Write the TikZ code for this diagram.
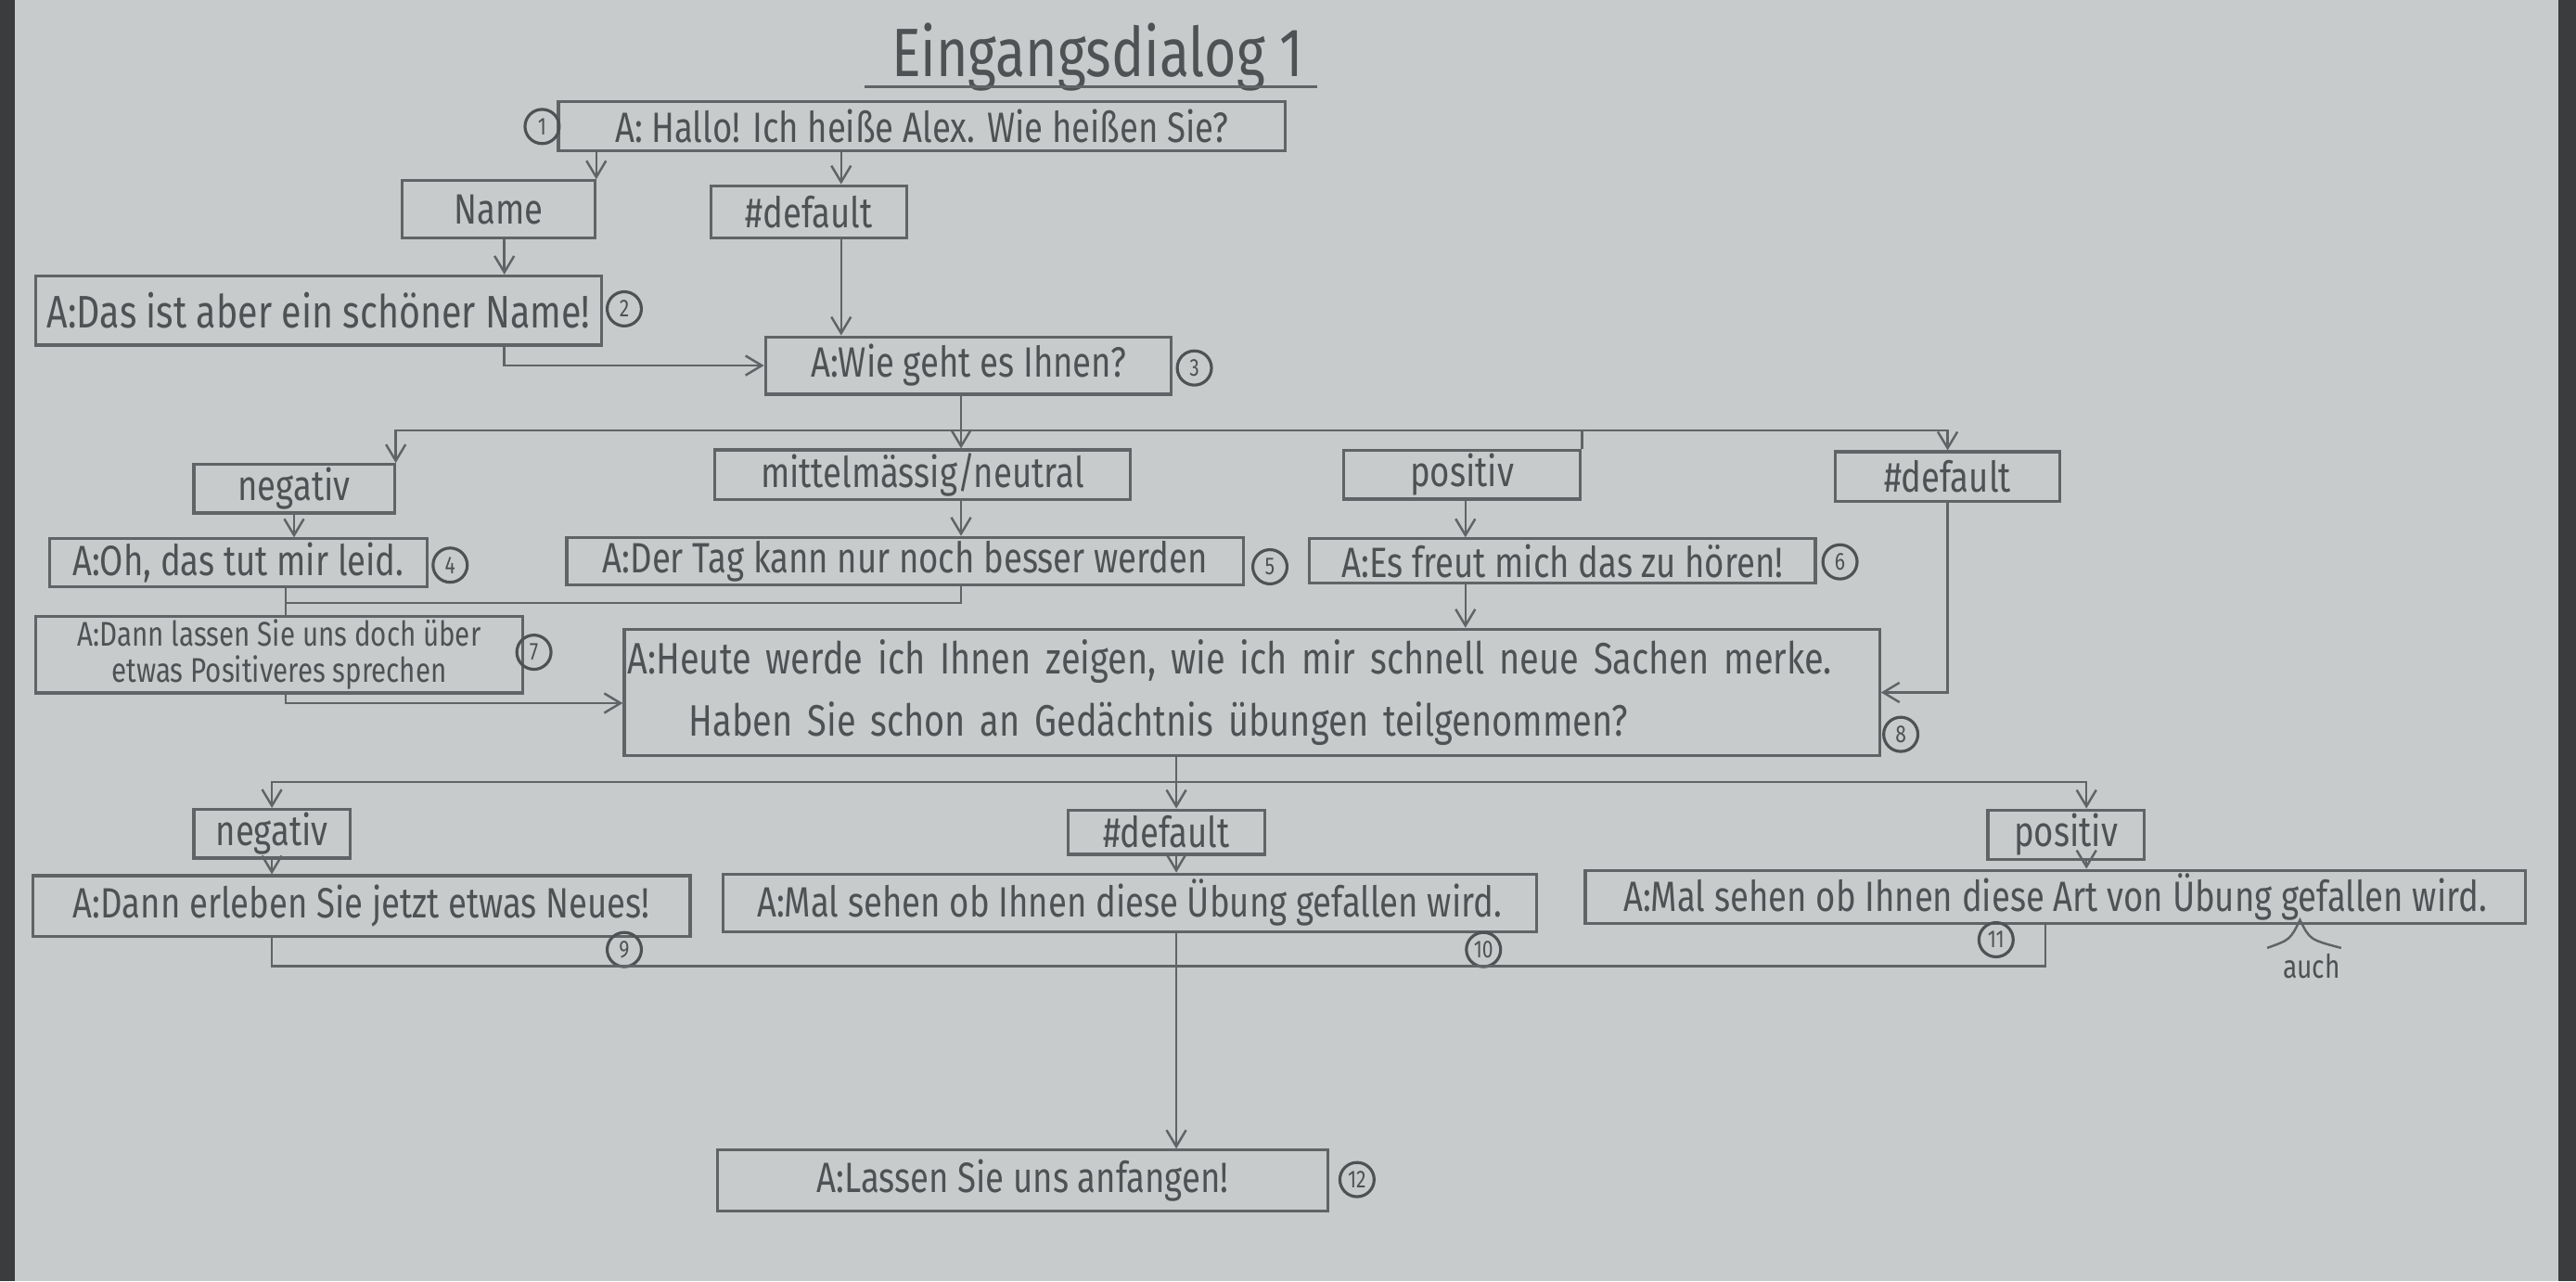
\documentclass[tikz,border=0pt]{standalone}
\usepackage{fontspec}
\setmainfont{Fira Sans}[FakeStretch=0.8]
\usetikzlibrary{arrows.meta}
\definecolor{paper}{RGB}{199,203,203}
\definecolor{pencil}{RGB}{96,100,102}
\definecolor{ink}{RGB}{78,82,84}
\definecolor{desk}{RGB}{58,60,62}

\begin{document}
\begin{tikzpicture}[x=0.1771mm, y=-0.1771mm,
    box/.style={draw=pencil, line width=0.9pt, text=ink, inner sep=1pt, font=\fontsize{13}{15}\selectfont},
    num/.style={circle, draw=ink, line width=0.9pt, inner sep=0pt, minimum size=10.5pt, text=ink, font=\fontsize{7.5}{8}\selectfont},
    link/.style={draw=pencil, line width=0.7pt},
    arr/.style={link, -{Straight Barb[length=5pt, width=6pt]}}]
    \fill [paper] (0,0) rectangle (1568,780);
    \fill [desk] (0,0) rectangle (9,780);
    \fill [desk] (1557,0) rectangle (1568,780);

    \node [text=ink, inner sep=0pt, font=\fontsize{21}{23}\selectfont] (title) at (668,35) {Eingangsdialog 1};
    \draw [link, line width=1pt] ([xshift=-8pt, yshift=-3pt]title.base west) -- ([xshift=4pt, yshift=-3pt]title.base east);

    \node [box, minimum width=222.8pt, minimum height=15.1pt] (n1) at (561,77) {A: Hallo! Ich heiße Alex. Wie heißen Sie?};
    \node [box, minimum width=59pt, minimum height=17.6pt] (name) at (303.5,127.5) {Name};
    \node [box, minimum width=60pt, minimum height=16.1pt] (def1) at (492.5,129) {\#default};
    \node [box, minimum width=173.4pt, minimum height=21.2pt, font=\fontsize{14}{16}\selectfont] (n2) at (194,189) {A:Das ist aber ein schöner Name!};
    \node [box, minimum width=124.5pt, minimum height=17.6pt] (n3) at (589.5,222.5) {A:Wie geht es Ihnen?};

    \node [box, minimum width=61.5pt, minimum height=14.6pt] (neg1) at (179,297.5) {negativ};
    \node [box, minimum width=127.5pt, minimum height=14.1pt] (mid) at (561.5,289) {mittelmässig/neutral};
    \node [box, minimum width=72.6pt, minimum height=14.1pt] (pos1) at (890,289) {positiv};
    \node [box, minimum width=69pt, minimum height=15.1pt] (def2) at (1185.5,290) {\#default};

    \node [box, minimum width=115.9pt, minimum height=14.6pt] (n4) at (145,342.5) {A:Oh, das tut mir leid.};
    \node [box, minimum width=207.6pt, minimum height=13.6pt] (n5) at (551,341.5) {A:Der Tag kann nur noch besser werden};
    \node [box, minimum width=155.2pt, minimum height=13.6pt] (n6) at (951,341.5) {A:Es freut mich das zu hören!};
    \node [box, minimum width=149.2pt, minimum height=21.7pt, align=center, font=\fontsize{10.5}{11}\selectfont] (n7) at (170,398.5) {A:Dann lassen Sie uns doch über\\etwas Positiveres sprechen};
    \node [box, text width=383pt, minimum height=38.8pt, align=left, font=\fontsize{13.5}{19}\selectfont] (n8) at (762,421.5) {\mbox{A:Heute werde ich Ihnen zeigen, wie ich mir schnell neue Sachen merke.}\\\mbox{\hspace*{1.4em}Haben Sie schon an Gedächtnis übungen teilgenommen?}};

    \node [box, minimum width=47.9pt, minimum height=14.6pt] (neg2) at (165.5,507.5) {negativ};
    \node [box, minimum width=60.5pt, minimum height=13.6pt] (def3) at (710,506.5) {\#default};
    \node [box, minimum width=47.9pt, minimum height=15.1pt] (pos2) at (1257.5,508) {positiv};

    \node [box, minimum width=201.6pt, minimum height=18.6pt] (n9) at (220,551.5) {A:Dann erleben Sie jetzt etwas Neues!};
    \node [box, minimum width=249.5pt, minimum height=17.6pt] (n10) at (687.5,549.5) {A:Mal sehen ob Ihnen diese Übung gefallen wird.};
    \node [box, minimum width=288.3pt, minimum height=16.1pt] (n11) at (1251,546) {A:Mal sehen ob Ihnen diese Art von Übung gefallen wird.};
    \node [box, minimum width=187pt, minimum height=18.6pt] (n12) at (622.5,718.5) {A:Lassen Sie uns anfangen!};

    \node [text=ink, inner sep=0pt, font=\fontsize{10}{11}\selectfont] (auch) at (1407,588) {auch};
    \draw [link] (1380,577) .. controls (1394,572) .. (1400,560) .. controls (1406,572) .. (1425,577);

    \node [num] (c1) at (330,77) {1};
    \node [num] (c2) at (380,188) {2};
    \node [num] (c3) at (727,224) {3};
    \node [num] (c4) at (274,344) {4};
    \node [num] (c5) at (773,345) {5};
    \node [num] (c6) at (1120,342) {6};
    \node [num] (c7) at (325,397) {7};
    \node [num] (c8) at (1157,447) {8};
    \node [num] (c9) at (380,578) {9};
    \node [num] (c10) at (903,578) {10};
    \node [num] (c11) at (1215,572) {11};
    \node [num] (c12) at (826,718) {12};

    \coordinate (xa) at (512,0);
    \coordinate (xb) at (307,0);
    \coordinate (j1) at (585,262);
    \coordinate (xe) at (174,0);
    \coordinate (j2) at (174,367);
    \coordinate (j3) at (174,428);
    \coordinate (xp) at (892,0);
    \coordinate (j4) at (716,476);
    \coordinate (xf) at (1270,0);
    \coordinate (xg) at (1245,0);
    \coordinate (j5) at (716,588);

    \draw [arr] (n1.south -| name.north east) -- (name.north east);
    \draw [arr] (n1.south -| xa) -- (def1.north -| xa);
    \draw [arr] (name.south -| xb) -- (n2.north -| xb);
    \draw [arr] (def1.south -| xa) -- (n3.north -| xa);
    \draw [arr] (n2.south -| xb) |- (n3.west);
    \draw [link] (n3.south -| j1) -- (j1);
    \draw [arr] (j1) -| (neg1.north east);
    \draw [arr] (j1) -- (mid.north -| j1);
    \draw [link] (j1) -| (pos1.north east);
    \draw [arr] (j1) -| (def2.north);
    \draw [arr] (neg1.south) -- (neg1.south |- n4.north);
    \draw [arr] (mid.south -| j1) -- (n5.north -| j1);
    \draw [arr] (pos1.south -| xp) -- (n6.north -| xp);
    \draw [arr] (def2.south) |- (n8.east);
    \draw [link] (n4.south -| xe) -- (n7.north -| xe);
    \draw [link] (n5.south -| j1) |- (j2);
    \draw [arr] (n7.south -| j3) -- (j3) -- (j3 -| n8.west);
    \draw [arr] (n6.south -| xp) -- (n8.north -| xp);
    \draw [link] (n8.south -| j4) -- (j4);
    \draw [arr] (j4) -| (neg2.north);
    \draw [arr] (j4) -- (def3.north -| j4);
    \draw [arr] (j4) -| (pos2.north -| xf);
    \draw [arr] (neg2.south) -- (neg2.south |- n9.north);
    \draw [arr] (def3.south -| j4) -- (n10.north -| j4);
    \draw [arr] (pos2.south -| xf) -- (n11.north -| xf);
    \draw [link] (n9.south -| neg2.south) |- (j5);
    \draw [link] (n11.south -| xg) |- (j5);
    \draw [arr] (n10.south -| j4) -- (n12.north -| j4);
\end{tikzpicture}
\end{document}
